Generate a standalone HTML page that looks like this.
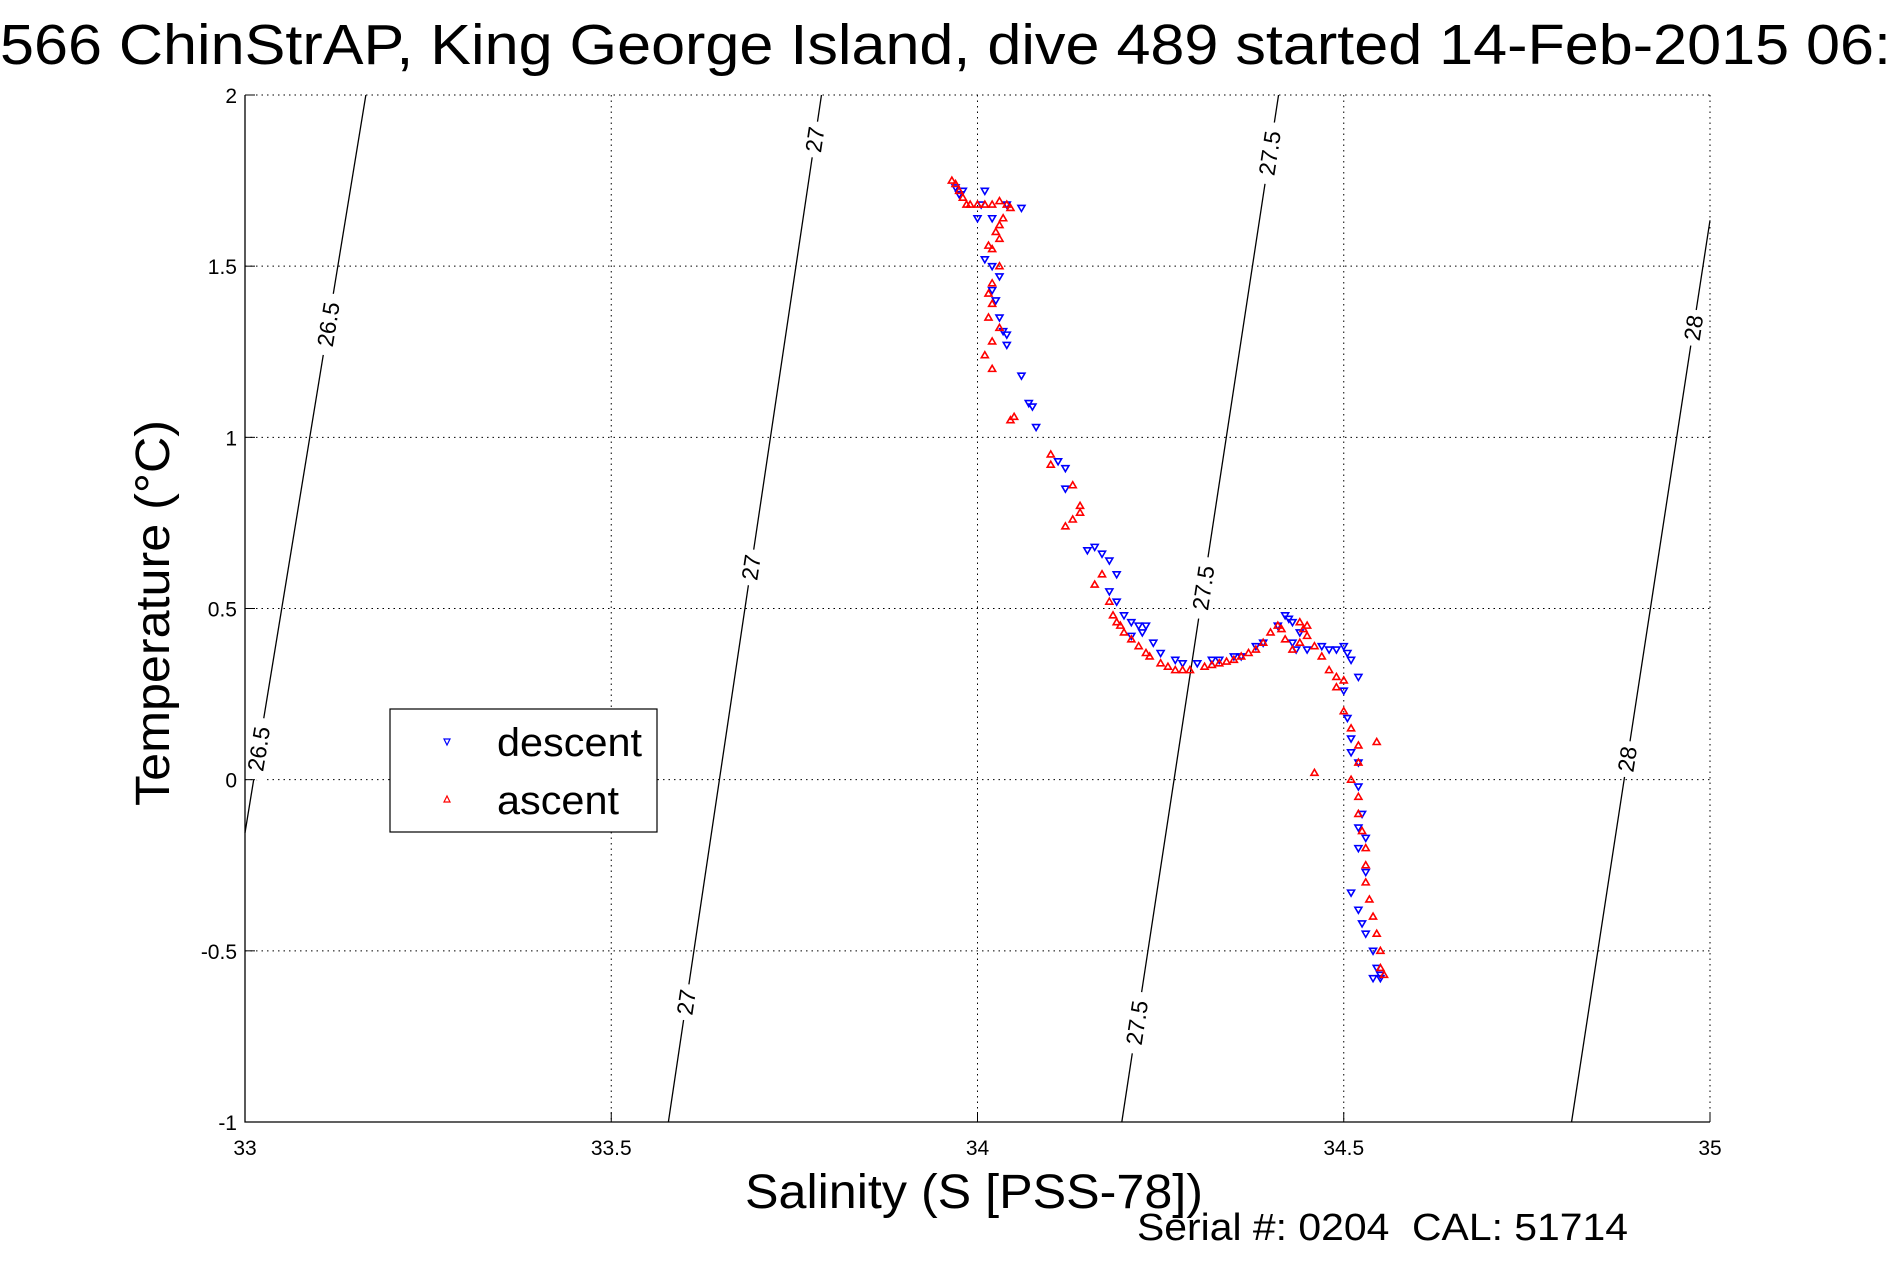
<!DOCTYPE html>
<html><head><meta charset="utf-8"><style>
html,body{margin:0;padding:0;background:#fff;}
svg{display:block;font-family:"Liberation Sans",sans-serif;}
</style></head><body>
<svg id="chart" width="1891" height="1262" viewBox="0 0 1891 1262">
<text x="0" y="64" font-size="57" textLength="1891" lengthAdjust="spacingAndGlyphs">566 ChinStrAP, King George Island, dive 489 started 14-Feb-2015 06:</text>
<g id="grid"></g>
<g id="contours"></g>
<g id="marks"></g>
<g id="axes"></g>
<text x="745" y="1208" font-size="48" textLength="458" lengthAdjust="spacingAndGlyphs">Salinity (S [PSS-78])</text>
<text transform="translate(169,613) rotate(-90)" font-size="48" text-anchor="middle" textLength="386" lengthAdjust="spacingAndGlyphs">Temperature (°C)</text>
<text x="1137" y="1240" font-size="38" textLength="491" lengthAdjust="spacingAndGlyphs" xml:space="preserve">Serial #: 0204  CAL: 51714</text>
<g>
<rect x="390" y="709" width="267" height="123" fill="#fff" stroke="#000" stroke-width="1.2"/>
<path d="M444 739 l6 0 l-3 6z" fill="none" stroke="#00f" stroke-width="1.2"/>
<text x="497" y="756" font-size="40" textLength="145" lengthAdjust="spacingAndGlyphs">descent</text>
<path d="M444 802 l6 0 l-3 -6z" fill="none" stroke="#f00" stroke-width="1.2"/>
<text x="497" y="814" font-size="40" textLength="122" lengthAdjust="spacingAndGlyphs">ascent</text>
</g>
</svg>
<script>
const xTicks=[33,33.5,34,34.5,35];
const xTickLabels=["33","33.5","34","34.5","35"];
const yTicks=[-1,-0.5,0,0.5,1,1.5,2];
const yTickLabels=["-1","-0.5","0","0.5","1","1.5","2"];
const sigmaLevels=[26.5,27,27.5,28];
const sigmaTopS=[33.165,33.787,34.411,35.0];
const sigmaTopT=[2,2,2,1.634];
const sigmaBotS=[33.0,33.578,34.197,34.811];
const sigmaBotT=[-0.155,-1,-1,-1];
const sigmaLabelT=[[1.33,0.09],[1.87,0.62,-0.65],[1.83,0.56,-0.71],[1.32,0.06]];
const descentS=[33.97,33.975,33.98,34.01,34.005,34.02,34.04,34.06,34.0,34.01,34.02,34.03,34.02,34.025,34.03,34.035,34.04,34.04,34.06,34.07,34.075,34.08,34.11,34.12,34.12,34.15,34.16,34.17,34.18,34.19,34.18,34.19,34.2,34.21,34.22,34.23,34.225,34.21,34.24,34.25,34.27,34.28,34.3,34.32,34.33,34.35,34.36,34.38,34.39,34.41,34.42,34.425,34.43,34.44,34.43,34.435,34.45,34.47,34.48,34.49,34.5,34.505,34.51,34.52,34.5,34.505,34.51,34.51,34.52,34.52,34.525,34.52,34.53,34.52,34.53,34.51,34.52,34.525,34.53,34.54,34.545,34.55,34.54,34.55];
const descentT=[1.73,1.71,1.72,1.72,1.68,1.64,1.68,1.67,1.64,1.52,1.5,1.47,1.43,1.4,1.35,1.31,1.3,1.27,1.18,1.1,1.09,1.03,0.93,0.91,0.85,0.67,0.68,0.66,0.64,0.6,0.55,0.52,0.48,0.46,0.45,0.45,0.43,0.42,0.4,0.37,0.35,0.34,0.34,0.35,0.35,0.36,0.36,0.39,0.4,0.45,0.48,0.47,0.46,0.43,0.4,0.38,0.38,0.39,0.38,0.38,0.39,0.37,0.35,0.3,0.26,0.18,0.12,0.08,0.05,-0.02,-0.1,-0.14,-0.17,-0.2,-0.27,-0.33,-0.38,-0.42,-0.45,-0.5,-0.55,-0.57,-0.58,-0.58];
const ascentS=[33.965,33.97,33.975,33.98,33.985,33.99,34.0,34.01,34.02,34.03,34.04,34.045,34.035,34.03,34.025,34.03,34.02,34.015,34.03,34.02,34.015,34.02,34.015,34.03,34.02,34.01,34.02,34.05,34.045,34.1,34.1,34.13,34.14,34.14,34.13,34.12,34.17,34.16,34.18,34.185,34.19,34.195,34.2,34.21,34.22,34.23,34.235,34.25,34.26,34.27,34.28,34.29,34.31,34.32,34.33,34.34,34.35,34.36,34.37,34.38,34.39,34.4,34.41,34.415,34.42,34.43,34.44,34.445,34.44,34.45,34.45,34.46,34.47,34.48,34.49,34.5,34.49,34.5,34.51,34.52,34.52,34.51,34.52,34.52,34.525,34.53,34.53,34.53,34.535,34.54,34.545,34.55,34.55,34.555,34.545,34.46];
const ascentT=[1.75,1.74,1.72,1.7,1.68,1.68,1.68,1.68,1.68,1.69,1.68,1.67,1.64,1.62,1.6,1.58,1.55,1.56,1.5,1.45,1.42,1.39,1.35,1.32,1.28,1.24,1.2,1.06,1.05,0.95,0.92,0.86,0.8,0.78,0.76,0.74,0.6,0.57,0.52,0.48,0.46,0.45,0.43,0.41,0.39,0.37,0.36,0.34,0.33,0.32,0.32,0.32,0.33,0.335,0.34,0.345,0.35,0.36,0.37,0.38,0.4,0.43,0.45,0.44,0.41,0.38,0.4,0.44,0.46,0.45,0.42,0.39,0.36,0.32,0.3,0.29,0.27,0.2,0.15,0.1,0.05,0.0,-0.05,-0.1,-0.15,-0.2,-0.25,-0.3,-0.35,-0.4,-0.45,-0.5,-0.55,-0.57,0.11,0.02];

const L=245,R=1710,T=95,B=1122;
const sx=s=>L+(s-33)/2*(R-L);
const ty=t=>B-(t+1)/3*(B-T);
const NS="http://www.w3.org/2000/svg";
function mk(tag,parent,attrs){const e=document.createElementNS(NS,tag);for(const k in attrs)e.setAttribute(k,attrs[k]);parent.appendChild(e);return e;}
const grid=document.getElementById('grid'),axes=document.getElementById('axes'),cont=document.getElementById('contours'),marks=document.getElementById('marks');

xTicks.forEach((v,i)=>{
  const g=mk('line',grid,{x1:sx(v),x2:sx(v),y1:T,y2:B,stroke:'#000','stroke-width':1,'stroke-dasharray':'1.5,4'});
  
  
  const t=mk('line',axes,{x1:sx(v),x2:sx(v),y1:B,y2:B-10,stroke:'#000','stroke-width':1});
  
  
  const lb=mk('text',axes,{x:sx(v),y:1155,'font-size':21,'text-anchor':'middle'});
  lb.textContent=xTickLabels[i];
  
  
});
yTicks.forEach((v,i)=>{
  const g=mk('line',grid,{x1:L,x2:R,y1:ty(v),y2:ty(v),stroke:'#000','stroke-width':1,'stroke-dasharray':'1.5,4'});
  
  
  const t=mk('line',axes,{x1:L,x2:L+10,y1:ty(v),y2:ty(v),stroke:'#000','stroke-width':1});
  
  
  const lb=mk('text',axes,{x:237,y:ty(v)+8,'font-size':21,'text-anchor':'end'});
  lb.textContent=yTickLabels[i];
  
  
});
const ax=mk('path',axes,{d:`M${L} ${T} L${L} ${B} L${R} ${B}`,fill:'none',stroke:'#000','stroke-width':1.3});



sigmaLevels.forEach((lev,i)=>{
  const x1=sx(sigmaTopS[i]),y1=ty(sigmaTopT[i]),x2=sx(sigmaBotS[i]),y2=ty(sigmaBotT[i]);
  const ln=mk('line',cont,{x1,y1,x2,y2,stroke:'#000','stroke-width':1.3});
  
  
  const ang=Math.atan2(y1-y2,x1-x2)*180/Math.PI;
  sigmaLabelT[i].forEach(tv=>{
    const y=ty(tv);const f=(y-y1)/(y2-y1);const x=x1+f*(x2-x1);
    const g=mk('g',cont,{transform:`translate(${x},${y}) rotate(${ang})`});
    
    
    const w=String(lev).length*13+10;
    mk('rect',g,{x:-w/2,y:-12,width:w,height:24,fill:'#fff'});
    const tx=mk('text',g,{x:0,y:8,'font-size':23,'text-anchor':'middle'});
    tx.textContent=String(lev);
  });
});

function tri(s,t,down,color,name){
  const x=sx(s),y=ty(t);
  const d=down?`M${x-3.5} ${y-2.5} L${x+3.5} ${y-2.5} L${x} ${y+3.5}Z`:`M${x-3.5} ${y+2.5} L${x+3.5} ${y+2.5} L${x} ${y-3.5}Z`;
  const p=mk('path',marks,{d,fill:'none',stroke:color,'stroke-width':1.6});
  
  
}
descentS.forEach((s,i)=>tri(s,descentT[i],true,'#0000ff','descent-point'));
ascentS.forEach((s,i)=>tri(s,ascentT[i],false,'#ff0000','ascent-point'));
</script>
</body></html>
